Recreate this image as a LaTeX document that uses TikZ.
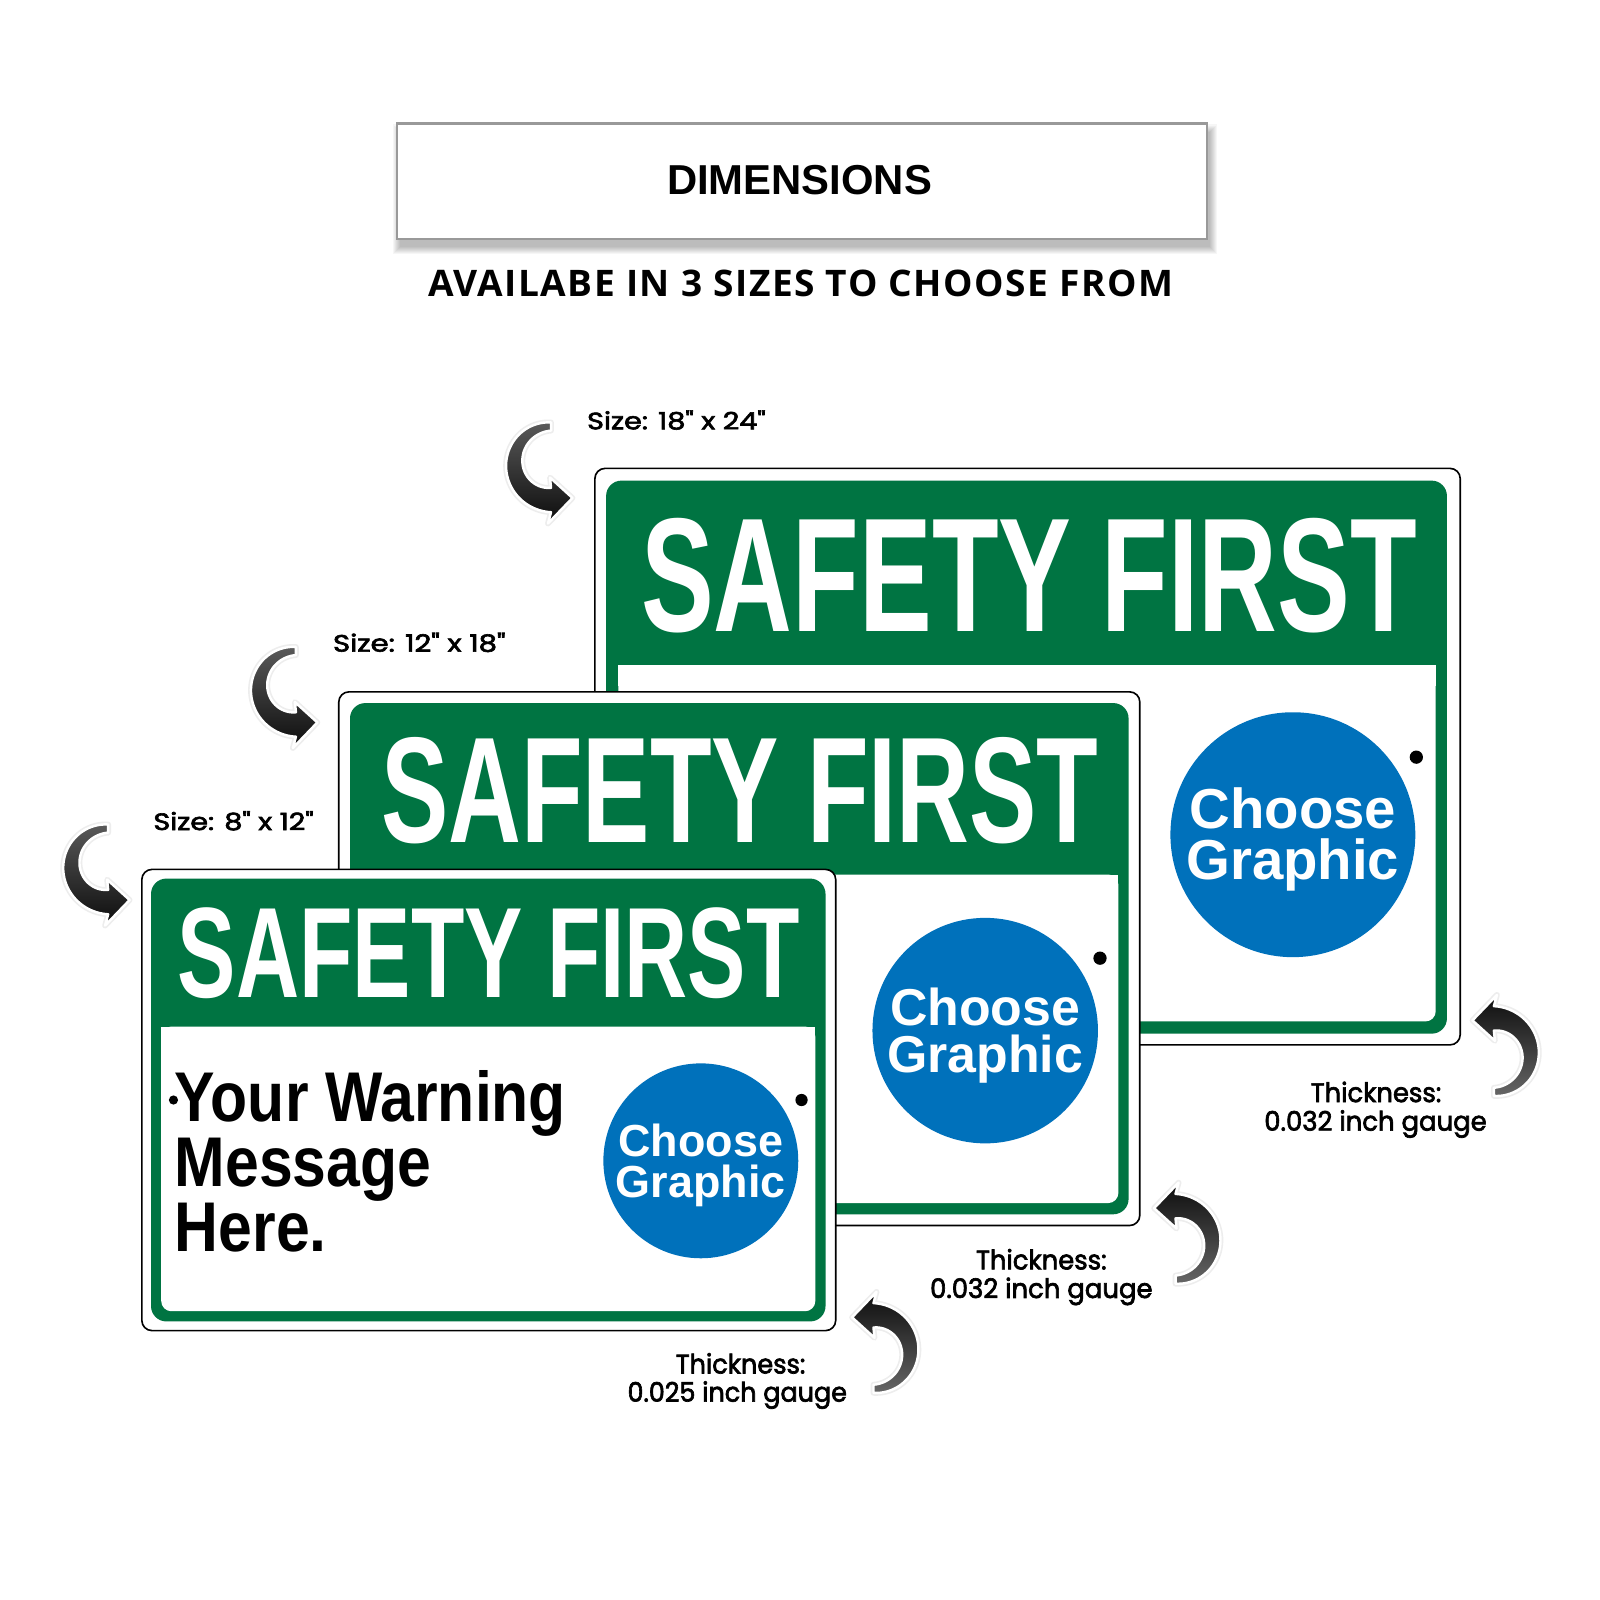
\documentclass[tikz,border=0pt]{standalone}
\usepackage{fontspec}
\usepackage{graphicx}
\setmainfont{Liberation Sans}
\newfontfamily\opensans{Open Sans}[LetterSpace=4]
\newfontfamily\labfont{Poppins}[FakeBold=2.5]
\definecolor{sgreen}{RGB}{0,116,66}
\definecolor{sblue}{RGB}{0,113,187}
\newcommand\CurvArrow[5]{%
\path[arrowsty, top color=#4, bottom color=#5]
 plot[domain=270:90, samples=40, variable=\t] ({#1+#3*(40+8*(270-\t)/180)*cos(\t)}, {#2+#3*(40+8*(270-\t)/180)*sin(\t)})
 -- ({#1+#3*(-3)},{#2+#3*59})
 -- ({#1+#3*21},{#2+#3*34})
 -- ({#1+#3*(-1)},{#2+#3*14})
 -- plot[domain=90:270, samples=40, variable=\t] ({#1+#3*(32-8*(270-\t)/180)*cos(\t)}, {#2+#3*(32-8*(270-\t)/180)*sin(\t)})
 -- cycle;}
\begin{document}
\begin{tikzpicture}[x=0.5pt,y=-0.5pt,
  signouter/.style={draw=black, line width=0.8pt, fill=white, rounded corners=5pt},
  signgreen/.style={fill=sgreen, rounded corners=7.5pt},
  signinner/.style={fill=white, rounded corners=5pt},
  arrowsty/.style={draw=white, line width=1.2pt, line join=round, preaction={draw=black!7, line width=2.8pt, line join=round}},
  lab/.style={inner sep=0pt, anchor=base},
  sftext/.style={inner sep=0pt, anchor=base west, text=white},
  gdot/.style={circle, fill=black, inner sep=0pt},
  gcirc/.style={circle, fill=sblue, inner sep=0pt},
  gtext/.style={inner sep=0pt, anchor=base, text=white}]
\fill[white] (0,0) rectangle (1568,1568);
\useasboundingbox (0,0) rectangle (1568,1568);

% title box
\foreach \i in {0,...,7}{\fill[black,opacity=0.035] ({389-\i+3},{121-\i+8}) rectangle ({1183+\i+3},{234+\i+8});}
\draw[draw=black!40, line width=1.25pt, fill=white] (389,121) rectangle (1183,234);
\node[lab] (dim) at (783.5,191) {\fontsize{20.5pt}{24pt}\selectfont\bfseries DIMENSIONS};
\node[lab] (avail) at (784.5,290.7) {\resizebox{365pt}{13pt}{\opensans\bfseries AVAILABE IN 3 SIZES TO CHOOSE FROM}};

% large sign
\draw[signouter] (583,459) rectangle (1431,1024);
\fill[signgreen] (594,471) rectangle (1418,1013);
\fill[signinner] (606,652) rectangle (1407,1001);
\fill[white] (606,652) rectangle (1407,672);
\node[sftext] (sf1) at (628,619) {\resizebox{380pt}{55.5pt}{\bfseries SAFETY FIRST}};
\node[gcirc, minimum size=120pt] (c1) at (1267,818) {};
\node[gtext, font=\bfseries\fontsize{27.6pt}{30pt}\selectfont] (c1a) at (1267,812) {Choose};
\node[gtext, font=\bfseries\fontsize{27.6pt}{30pt}\selectfont] (c1b) at (1267,862) {Graphic};
\node[gdot, minimum size=6.5pt] (d1) at (1388,742) {};

% middle sign
\draw[signouter] (332,678) rectangle (1117,1201);
\fill[signgreen] (343,689) rectangle (1106,1190);
\fill[signinner] (355,857) rectangle (1096,1179);
\fill[white] (355,857) rectangle (1096,877);
\node[sftext] (sf2) at (373,826) {\resizebox{351.5pt}{51.5pt}{\bfseries SAFETY FIRST}};
\node[gcirc, minimum size=110.5pt] (c2) at (965.5,1010) {};
\node[gtext, font=\bfseries\fontsize{25.4pt}{28pt}\selectfont] (c2a) at (965.5,1004.5) {Choose};
\node[gtext, font=\bfseries\fontsize{25.4pt}{28pt}\selectfont] (c2b) at (965.5,1051) {Graphic};
\node[gdot, minimum size=6.5pt] (d2) at (1078,939) {};

% small sign
\draw[signouter] (139,852) rectangle (819,1304);
\fill[signgreen] (148,861) rectangle (809,1295);
\fill[signinner] (158,1006) rectangle (799,1285);
\fill[white] (158,1006) rectangle (799,1026);
\node[sftext] (sf3) at (174,978) {\resizebox{304.5pt}{44pt}{\bfseries SAFETY FIRST}};
\node[gcirc, minimum size=95.5pt] (c3) at (686.8,1137.6) {};
\node[gtext, font=\bfseries\fontsize{22pt}{24pt}\selectfont] (c3a) at (686.8,1132.9) {Choose};
\node[gtext, font=\bfseries\fontsize{22pt}{24pt}\selectfont] (c3b) at (686.8,1173.4) {Graphic};
\node[gdot, minimum size=6pt] (d3) at (785.5,1078) {};
\node[lab, anchor=base west] (w1) at (171,1099) {\scalebox{0.862}[1]{\fontsize{34.5pt}{36pt}\selectfont\bfseries Your Warning}};
\node[lab, anchor=base west] (w2) at (171,1163) {\scalebox{0.862}[1]{\fontsize{34.5pt}{36pt}\selectfont\bfseries Message}};
\node[lab, anchor=base west] (w3) at (171,1226.6) {\scalebox{0.862}[1]{\fontsize{34.5pt}{36pt}\selectfont\bfseries Here.}};
\node[gdot, minimum size=4.5pt] (bul) at (170,1078) {};

% size labels
\node[lab, anchor=base west] (sz1) at (575,420.7) {\resizebox{87.5pt}{9.25pt}{\labfont Size: 18" x 24"}};
\node[lab, anchor=base west] (sz2) at (326,638.6) {\resizebox{84.5pt}{9.25pt}{\labfont Size: 12" x 18"}};
\node[lab, anchor=base west] (sz3) at (150,813.4) {\resizebox{78.5pt}{9.25pt}{\labfont Size: 8" x 12"}};

% thickness labels
\node[lab] (tha1) at (1348.5,1080) {\resizebox{64pt}{10pt}{\labfont Thickness:}};
\node[lab] (tha2) at (1348,1108) {\resizebox{109pt}{10pt}{\labfont 0.032 inch gauge}};
\node[lab] (thb1) at (1020.5,1244) {\resizebox{64pt}{10pt}{\labfont Thickness:}};
\node[lab] (thb2) at (1020.5,1272) {\resizebox{109pt}{10pt}{\labfont 0.032 inch gauge}};
\node[lab] (thc1) at (725.75,1346) {\resizebox{63.5pt}{10pt}{\labfont Thickness:}};
\node[lab] (thc2) at (722.5,1373.6) {\resizebox{107.5pt}{10pt}{\labfont 0.025 inch gauge}};

% curved arrows
\CurvArrow{540}{454}{1}{black!65}{black!95}
\CurvArrow{290}{674}{1}{black!65}{black!95}
\CurvArrow{106}{848}{1}{black!65}{black!95}
\CurvArrow{1464}{1034}{(-1)}{black!95}{black!60}
\CurvArrow{1152}{1218}{(-1)}{black!95}{black!60}
\CurvArrow{856}{1325}{(-1)}{black!95}{black!60}
\end{tikzpicture}
\end{document}
